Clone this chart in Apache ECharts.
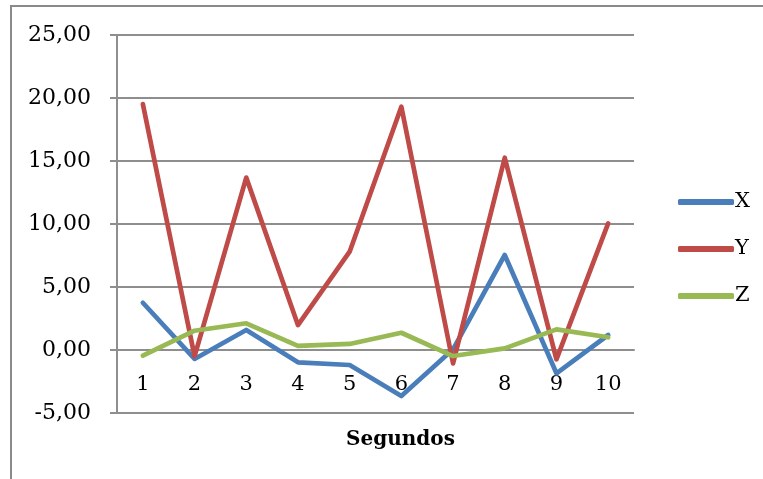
<!DOCTYPE html>
<html>
<head>
<meta charset="utf-8">
<script src="https://cdn.jsdelivr.net/npm/echarts@6/dist/echarts.min.js"></script>
<style>
  html, body { margin: 0; padding: 0; background: #fff; }
  #chart { width: 763px; height: 479px; }
</style>
</head>
<body>
<div id="chart"></div>
<script>
// Seconds on the category axis, one reading per series
const categories = ['1', '2', '3', '4', '5', '6', '7', '8', '9', '10'];
const seriesX = [3.75, -0.71, 1.59, -0.98, -1.19, -3.65, 0.05, 7.54, -1.85, 1.19];
const seriesY = [19.52, -0.5, 13.68, 1.98, 7.8, 19.31, -1.06, 15.26, -0.74, 10.05];
const seriesZ = [-0.45, 1.53, 2.12, 0.32, 0.48, 1.37, -0.48, 0.13, 1.64, 1.01];
const yTicks = { min: -5, max: 25, interval: 5 };

const FONT = 'DejaVu Serif';
const GRID_COLOR = '#8e8e8e';
const GRID_TOP = 35;
const GRID_BOTTOM = 66;
const CHART_H = 479;

// Category axis sits on the zero line: shift it up from the grid bottom by
// the pixel distance between yTicks.min and 0.
const plotH = CHART_H - GRID_TOP - GRID_BOTTOM;
const zeroShift = plotH * (0 - yTicks.min) / (yTicks.max - yTicks.min);

const chart = echarts.init(document.getElementById('chart'), null, { renderer: 'canvas' });

function lineSeries(name, data, color) {
  return {
    name: name,
    type: 'line',
    data: data,
    showSymbol: false,
    symbol: 'none',
    smooth: false,
    animation: false,
    lineStyle: { color: color, width: 4.7, cap: 'round', join: 'round' },
    itemStyle: { color: color }
  };
}

chart.setOption({
  backgroundColor: '#ffffff',
  animation: false,
  graphic: [{
    type: 'rect',
    shape: { x: 11, y: 6, width: 800, height: 600 },
    style: { fill: 'none', stroke: '#8a8a8a', lineWidth: 2 },
    silent: true
  }],
  grid: {
    left: 117, right: 129, top: GRID_TOP, bottom: GRID_BOTTOM,
    containLabel: false,
    outerBoundsMode: 'none'
  },
  legend: {
    orient: 'vertical',
    left: 673,
    top: 186,
    itemWidth: 56,
    itemHeight: 6,
    itemGap: 25,
    icon: 'roundRect',
    textStyle: { fontFamily: FONT, fontSize: 21, color: '#000', lineHeight: 22, padding: [0, 0, 0, -4] },
    data: ['X', 'Y', 'Z']
  },
  xAxis: {
    type: 'category',
    data: categories,
    boundaryGap: true,
    position: 'bottom',
    offset: -zeroShift,
    name: 'Segundos',
    nameLocation: 'middle',
    nameGap: 80,
    nameTextStyle: { fontFamily: FONT, fontSize: 20, fontWeight: 'bold', color: '#000', padding: [0, 0, 0, 50] },
    axisLine: { show: true, onZero: false, lineStyle: { color: GRID_COLOR, width: 2 } },
    axisTick: { show: false },
    axisLabel: { fontFamily: FONT, fontSize: 21, color: '#000', margin: 24 },
    splitLine: { show: false }
  },
  yAxis: {
    type: 'value',
    min: yTicks.min,
    max: yTicks.max,
    interval: yTicks.interval,
    axisLine: { show: true, lineStyle: { color: GRID_COLOR, width: 2 } },
    axisTick: { show: true, inside: false, length: 7, lineStyle: { color: GRID_COLOR, width: 2 } },
    axisLabel: {
      fontFamily: FONT, fontSize: 22, color: '#000', margin: 26,
      formatter: v => v.toFixed(2).replace('.', ',')
    },
    splitLine: { show: true, lineStyle: { color: GRID_COLOR, width: 2 } }
  },
  series: [
    lineSeries('X', seriesX, '#4a7ebb'),
    lineSeries('Y', seriesY, '#be4b48'),
    lineSeries('Z', seriesZ, '#98b954')
  ]
});
</script>
</body>
</html>
